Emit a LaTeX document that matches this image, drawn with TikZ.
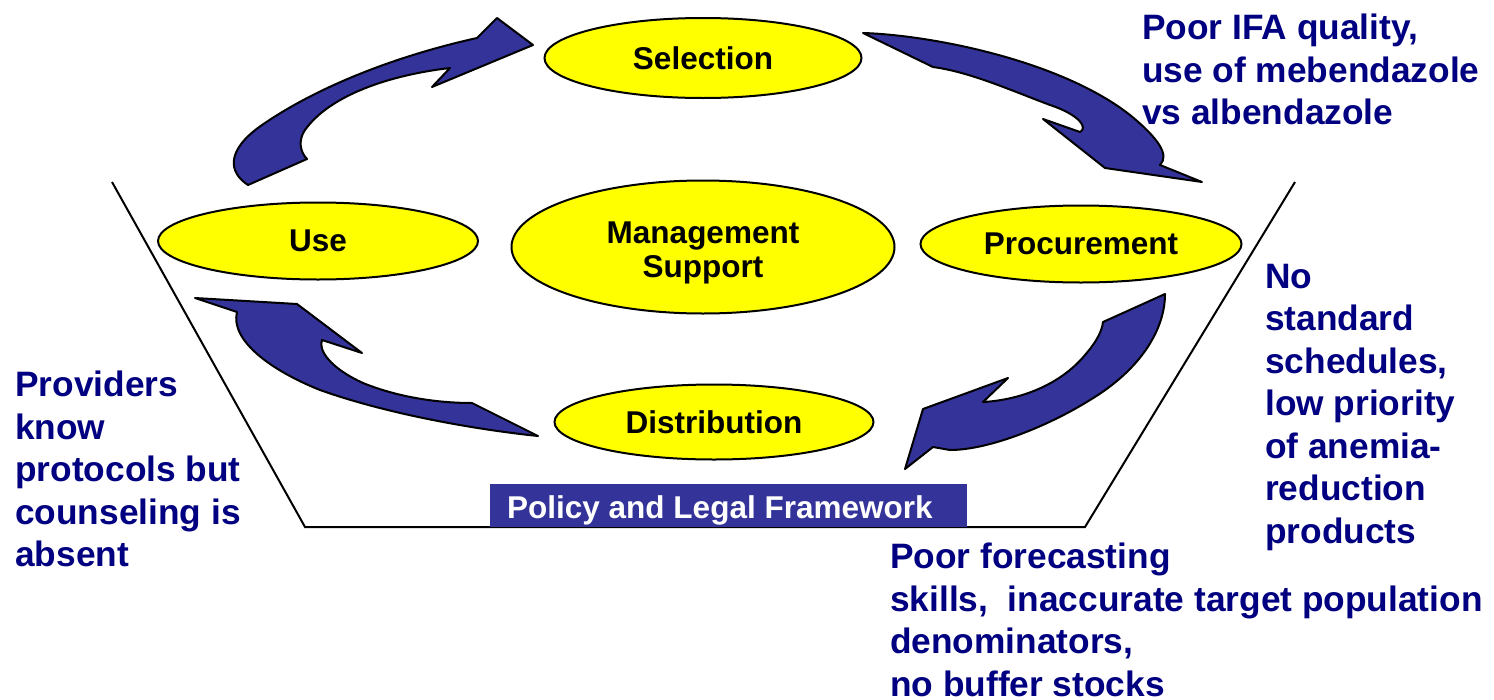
\documentclass[tikz,border=0pt]{standalone}
\usepackage{fontspec}
\setmainfont{Liberation Sans}
\usetikzlibrary{shapes.geometric}
\definecolor{arrowblue}{HTML}{333399}
\definecolor{navytext}{HTML}{000080}
\definecolor{ellyellow}{HTML}{FFFF00}
\begin{document}
\begin{tikzpicture}[x=1pt,y=-1pt,
  ell/.style={ellipse,draw=black,line width=2pt,fill=ellyellow,inner sep=0pt,
    font=\fontsize{31.5}{34}\selectfont\bfseries,align=center},
  blockarrow/.style={fill=arrowblue,draw=black,line width=2pt,line join=round},
  note/.style={anchor=north west,inner sep=0pt,align=left,text=navytext,
    font=\fontsize{35.3}{42.5}\selectfont\bfseries},
  frame/.style={draw=black,line width=2pt}]
\useasboundingbox (0,0) rectangle (1494,699);
% framework trapezoid
\coordinate (tl) at (112,182);
\coordinate (bl) at (305,527);
\coordinate (br) at (1085,527);
\coordinate (tr) at (1295,182);
\draw[frame] (tl) -- (bl) -- (br) -- (tr);
% policy box
\node[fill=arrowblue,anchor=north west,minimum width=477pt,minimum height=43pt,
  inner sep=0pt] (policy) at (490,484) {};
\node[anchor=west,inner sep=0pt,text=white,font=\fontsize{31.5}{34}\selectfont\bfseries]
  (policylabel) at ([xshift=17pt,yshift=-5pt]policy.west) {Policy and Legal Framework};
% ellipses
\node[ell,minimum width=317pt,minimum height=80pt] (sel) at (703,58) {Selection};
\node[ell,minimum width=320pt,minimum height=77pt] (use) at (318,241) {Use};
\node[ell,minimum width=383pt,minimum height=133pt] (mgmt) at (703,247) {};
\node[font=\fontsize{31.5}{34}\selectfont\bfseries,align=center,inner sep=0pt]
  (mgmtlabel) at ([yshift=-5.5pt]mgmt.center) {Management\\Support};
\node[ell,minimum width=321pt,minimum height=77pt] (proc) at (1081,244) {Procurement};
\node[ell,minimum width=319pt,minimum height=75pt] (dist) at (714,422) {Distribution};
% arrows
\draw[blockarrow] (248,185) .. controls (228,172) and (226,150) .. (262,125)
  .. controls (320,85) and (400,55) .. (477,38) -- (497,18) -- (533,45) -- (432,87)
  -- (450,68) .. controls (390,75) and (330,95) .. (305,130)
  .. controls (298,140) and (300,152) .. (307,159) -- cycle;
\draw[blockarrow] (863,33) .. controls (930,35) and (1060,60) .. (1130,115)
  .. controls (1158,138) and (1170,155) .. (1160,165) -- (1202,182) -- (1105,168)
  -- (1043,119) -- (1080,132) .. controls (1088,128) and (1080,115) .. (1050,105)
  .. controls (1010,90) and (970,72) .. (933,67) -- cycle;
\draw[blockarrow] (1165,294) .. controls (1165,330) and (1140,370) .. (1090,400)
  .. controls (1050,425) and (990,450) .. (950,450) -- (933,447) -- (905,469)
  -- (923,409) -- (1008,378) -- (983,402) .. controls (1020,400) and (1060,385) .. (1085,355)
  .. controls (1098,340) and (1102,330) .. (1103,322) -- cycle;
\draw[blockarrow] (538,436) .. controls (480,430) and (390,415) .. (320,390)
  .. controls (270,370) and (230,340) .. (237,312) -- (195,298) -- (297,304)
  -- (362,353) -- (322,340) .. controls (318,350) and (330,368) .. (363,383)
  .. controls (400,398) and (440,403) .. (472,403) -- cycle;
% notes
\node[note] (n1) at (1142,14) {Poor IFA quality,\\use of mebendazole\\vs albendazole};
\node[note] (n2) at (1265,264) {No\\standard\\schedules,\\low priority\\of anemia-\\reduction\\products};
\node[note] (n3) at (15,371) {Providers\\know\\protocols but\\counseling is\\absent};
\node[note] (n4) at (890,543) {Poor forecasting\\skills,\ \ inaccurate target population\\denominators,\\no buffer stocks};
\end{tikzpicture}
\end{document}
